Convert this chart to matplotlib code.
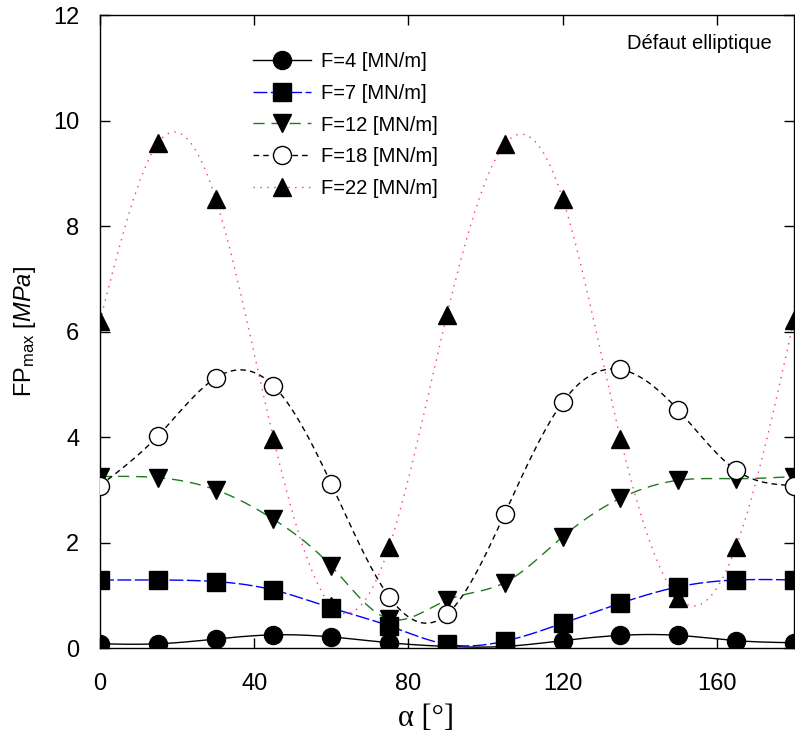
import numpy as np
import matplotlib.pyplot as plt

plt.rcParams['font.family'] = ['Liberation Sans', 'DejaVu Sans']
plt.rcParams['mathtext.fontset'] = 'custom'
plt.rcParams['mathtext.rm'] = 'Liberation Sans'
plt.rcParams['mathtext.it'] = 'Liberation Sans:italic'

# angle alpha [deg]
alpha = [0, 15, 30, 45, 60, 75, 90, 105, 120, 135, 150, 165, 180]

# FPmax [MPa] for each load F
fp_f4 = [0.08, 0.08, 0.17, 0.25, 0.21, 0.10, 0.03, 0.03, 0.14, 0.24, 0.24, 0.14, 0.10]
fp_f7 = [1.29, 1.29, 1.26, 1.10, 0.76, 0.42, 0.07, 0.13, 0.47, 0.85, 1.16, 1.29, 1.29]
fp_f12 = [3.25, 3.23, 3.00, 2.44, 1.55, 0.55, 0.91, 1.24, 2.11, 2.84, 3.18, 3.21, 3.25]
fp_f18 = [3.08, 4.02, 5.12, 4.97, 3.11, 0.97, 0.64, 2.55, 4.66, 5.28, 4.51, 3.37, 3.08]
fp_f22 = [6.20, 9.57, 8.52, 3.97, 0.80, 1.92, 6.32, 9.55, 8.52, 3.97, 0.95, 1.92, 6.22]

labels = ['F=4 [MN/m]', 'F=7 [MN/m]', 'F=12 [MN/m]', 'F=18 [MN/m]', 'F=22 [MN/m]']


def smooth(x, y, n=400):
    # natural cubic spline, only used to draw the connecting curve
    x = np.asarray(x, float)
    y = np.asarray(y, float)
    k = len(x)
    h = np.diff(x)
    A = np.zeros((k, k))
    b = np.zeros(k)
    A[0, 0] = 1
    A[-1, -1] = 1
    for i in range(1, k - 1):
        A[i, i - 1] = h[i - 1]
        A[i, i] = 2 * (h[i - 1] + h[i])
        A[i, i + 1] = h[i]
        b[i] = 6 * ((y[i + 1] - y[i]) / h[i] - (y[i] - y[i - 1]) / h[i - 1])
    M = np.linalg.solve(A, b)
    xs = np.linspace(x[0], x[-1], n)
    idx = np.clip(np.searchsorted(x, xs) - 1, 0, k - 2)
    x0, x1 = x[idx], x[idx + 1]
    hh = x1 - x0
    t0, t1 = x1 - xs, xs - x0
    ys = (M[idx] * t0**3 + M[idx + 1] * t1**3) / (6 * hh) \
        + (y[idx] / hh - M[idx] * hh / 6) * t0 \
        + (y[idx + 1] / hh - M[idx + 1] * hh / 6) * t1
    return xs, ys


fig = plt.figure(figsize=(7.95, 7.47), dpi=100)
ax = fig.add_axes([0.1258, 0.1325, 0.8729, 0.8474])

series = [
    (fp_f4, 'o', 'black', 'black', (None, None)),
    (fp_f7, 's', '#0000ff', 'black', (10, 2.5)),
    (fp_f12, 'v', '#1e7a1e', 'black', (8, 5)),
    (fp_f18, 'o', 'black', 'white', (4, 3)),
    (fp_f22, '^', '#ff2f8f', 'black', (1, 4)),
]

handles = []
for (vals, mk, col, face, dash), lab in zip(series, labels):
    xs, ys = smooth(alpha, vals)
    line, = ax.plot(xs, ys, color=col, lw=1.0, zorder=2)
    if dash[0] is not None:
        line.set_dashes(dash)
    ax.plot(alpha, vals, linestyle='none', marker=mk, ms=13,
            mfc=face, mec='black', mew=1.0, zorder=3)
    h, = ax.plot([], [], color=col, lw=1.0, marker=mk, ms=13,
                 mfc=face, mec='black', mew=1.0)
    if dash[0] is not None:
        h.set_dashes(dash)
    handles.append(h)

ax.set_xlim(0, 180)
ax.set_ylim(0, 12)
ax.set_xticks([0, 40, 80, 120, 160])
ax.set_yticks([0, 2, 4, 6, 8, 10, 12])
ax.tick_params(direction='in', length=7, width=1, labelsize=17,
               top=True, right=True)
ax.tick_params(axis='x', pad=18)
ax.tick_params(axis='y', pad=15)
for s in ax.spines.values():
    s.set_linewidth(1.0)

ax.set_xlabel('α [°]', fontsize=22, family=['Liberation Serif', 'DejaVu Serif'])
ax.xaxis.set_label_coords(0.47, -0.088)
ax.set_ylabel(r'FP$_{\mathrm{max}}$ [$\mathit{MPa}$]', fontsize=17, labelpad=11)

ax.text(0.968, 0.955, 'Défaut elliptique', transform=ax.transAxes,
        ha='right', va='center', fontsize=14.5)

ax.legend(handles, labels, loc='upper left', bbox_to_anchor=(0.22, 0.942),
          frameon=False, fontsize=14.5, handlelength=2.9, handletextpad=0.5,
          labelspacing=0.64, borderpad=0, borderaxespad=0)

fig.savefig('out.png', dpi=100)
